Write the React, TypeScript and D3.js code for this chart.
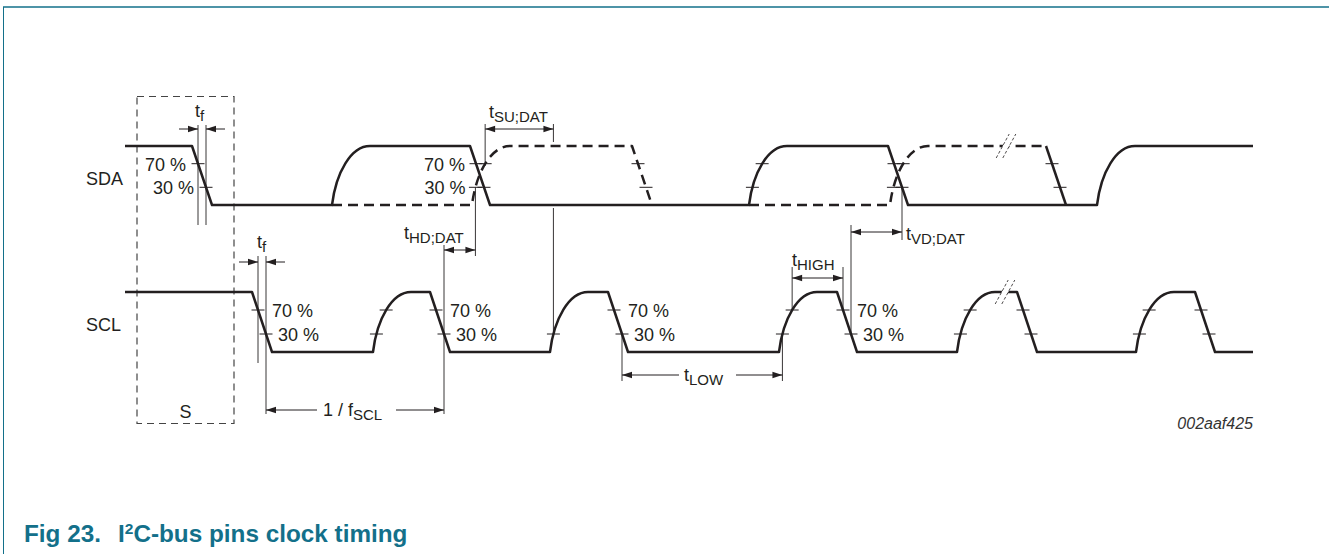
import * as d3 from 'd3'
import React from 'react'

// time axis (arbitrary units, 0 = left end of the traces)
const tEnd = 1128
const tRise = 38
const tFall = 20

// edge times, alternating direction from the starting level
const sdaSolidEdges = [67, 207, 345, 624, 763, 972]     // starts high
const sdaDash1Edges = [347, 507]                        // starts low at 207, ends at 527
const sdaDash2Edges = [765]                             // starts low at 624, ends high at 921
const sdaLastFall = [921]
const sclEdges = [127, 248, 305, 425, 483, 654, 712, 832, 892, 1011, 1070] // starts high

const levels = [0.3, 0.7]
const levelLabels = ['30 %', '70 %']

// edges that carry the 30 % / 70 % marks
const sdaTickFalls = [67, 345, 763, 921]
const sdaTickRises = [347, 624, 765]
const sdaTickDashFalls = [507]
const sclNo70Tick = [425]

const breakAt = 880

const W = 1329, H = 554
const FONT = 'Liberation Sans, Arial, Helvetica, sans-serif'
const INK = '#231f20'
const TEAL = '#13708a'
const FS = 18, FSUB = 15

// rise shape (normalised cubic bezier)
const c1 = [4 / 38, 0.55], c2 = [19 / 38, 1]
const bez = (u: number, a: number, b: number) => 3 * (1 - u) * (1 - u) * u * a + 3 * (1 - u) * u * u * b + u * u * u
const bezX = (l: number) => {
  let lo = 0, hi = 1
  for (let i = 0; i < 40; i++) {
    const m = (lo + hi) / 2
    if (bez(m, c1[1], c2[1]) < l) lo = m; else hi = m
  }
  return bez(lo, c1[0], c2[0])
}

const x = d3.scaleLinear().domain([0, tEnd]).range([125, 1253])
const sdaY = d3.scaleLinear().domain([0, 1]).range([205, 146])
const sclY = d3.scaleLinear().domain([0, 1]).range([352, 292])

const fallX = (t: number, l: number) => x(t + (1 - l) * tFall)
const riseX = (t: number, l: number) => x(t) + (x(t + tRise) - x(t)) * bezX(l)

function trace(y: d3.ScaleLinear<number, number>, t0: number, lvl0: number, edges: number[], t1: number) {
  const p = d3.path()
  let lvl = lvl0
  p.moveTo(x(t0), y(lvl))
  for (const e of edges) {
    p.lineTo(x(e), y(lvl))
    if (lvl === 1) {
      p.lineTo(x(e + tFall), y(0))
      lvl = 0
    } else {
      const x0 = x(e), x3 = x(e + tRise), y0 = y(0), y3 = y(1)
      p.bezierCurveTo(x0 + (x3 - x0) * c1[0], y0 + (y3 - y0) * c1[1], x0 + (x3 - x0) * c2[0], y3, x3, y3)
      lvl = 1
    }
  }
  p.lineTo(x(t1), y(lvl))
  return p.toString()
}

const arrowHead = (tip: number, y: number, dir: number) =>
  `M${tip},${y}L${tip - dir * 10},${y - 3.2}L${tip - dir * 10},${y + 3.2}Z`

const Dim = ({ a, b, y, outside = false, gap }: { a: number, b: number, y: number, outside?: boolean, gap?: [number, number] }) => {
  if (outside) {
    return <g>
      <line x1={a - 19} x2={a} y1={y} y2={y} stroke={INK} strokeWidth={1} />
      <line x1={b + 19} x2={b} y1={y} y2={y} stroke={INK} strokeWidth={1} />
      <path d={arrowHead(a, y, 1)} fill={INK} />
      <path d={arrowHead(b, y, -1)} fill={INK} />
    </g>
  }
  return <g>
    {gap
      ? <>
        <line x1={a} x2={gap[0]} y1={y} y2={y} stroke={INK} strokeWidth={1} />
        <line x1={gap[1]} x2={b} y1={y} y2={y} stroke={INK} strokeWidth={1} />
      </>
      : <line x1={a} x2={b} y1={y} y2={y} stroke={INK} strokeWidth={1} />}
    <path d={arrowHead(a, y, -1)} fill={INK} />
    <path d={arrowHead(b, y, 1)} fill={INK} />
  </g>
}

const VLine = ({ x0, y1, y2 }: { x0: number, y1: number, y2: number }) =>
  <line x1={x0} x2={x0} y1={y1} y2={y2} stroke={INK} strokeWidth={0.9} />

const Sub = ({ x0, y, main, sub }: { x0: number, y: number, main: string, sub: string }) =>
  <text x={x0} y={y} fontSize={FS} fill={INK}>{main}<tspan fontSize={FSUB} dy={4}>{sub}</tspan></text>

const Tick = ({ cx, cy }: { cx: number, cy: number }) =>
  <line x1={cx - 6.5} x2={cx + 6.5} y1={cy} y2={cy} stroke={INK} strokeWidth={1} />

const Break = ({ cx, cy }: { cx: number, cy: number }) => {
  const dx = 6.5, dy = 12, s = 3.3
  return <g>
    <polygon points={`${cx - s + dx},${cy - dy} ${cx + s + dx},${cy - dy} ${cx + s - dx},${cy + dy} ${cx - s - dx},${cy + dy}`} fill='#fff' />
    <line x1={cx - s - dx} y1={cy + dy} x2={cx - s + dx} y2={cy - dy} stroke={INK} strokeWidth={0.8} strokeDasharray='3,2' />
    <line x1={cx + s - dx} y1={cy + dy} x2={cx + s + dx} y2={cy - dy} stroke={INK} strokeWidth={0.8} strokeDasharray='3,2' />
  </g>
}

export default function App() {
  const wave = { fill: 'none', stroke: INK, strokeWidth: 2.5, strokeLinejoin: 'round' as const }
  const dashed = { ...wave, strokeDasharray: '10,6' }

  const sdaTicks: [number, number][] = []
  sdaTickFalls.concat(sdaTickDashFalls).forEach(t => levels.forEach(l => sdaTicks.push([fallX(t, l), sdaY(l)])))
  sdaTickRises.forEach(t => levels.forEach(l => sdaTicks.push([riseX(t, l), sdaY(l)])))
  const sclTicks: [number, number][] = []
  sclEdges.forEach((t, i) => levels.forEach(l => {
    if (l === 0.7 && sclNo70Tick.includes(t)) return
    sclTicks.push([i % 2 === 0 ? fallX(t, l) : riseX(t, l), sclY(l)])
  }))

  // dimension reference points
  const tfSdaA = fallX(sdaSolidEdges[0], 0.7), tfSdaB = fallX(sdaSolidEdges[0], 0.3)
  const tfSclA = fallX(sclEdges[0], 0.7), tfSclB = fallX(sclEdges[0], 0.3)
  const suA = riseX(sdaDash1Edges[0], 0.7), suB = riseX(sclEdges[3], 0.3)
  const hdA = fallX(sclEdges[2], 0.3), hdB = riseX(sdaDash1Edges[0], 0.3)
  const lowA = fallX(sclEdges[4], 0.3), lowB = riseX(sclEdges[5], 0.3)
  const highA = riseX(sclEdges[5], 0.7), highB = fallX(sclEdges[6], 0.7)
  const vdA = fallX(sclEdges[6], 0.3), vdB = fallX(sdaSolidEdges[4], 0.3)

  const sdaPct: [number, number][] = [
    [fallX(sdaSolidEdges[0], 0.7) - 12, fallX(sdaSolidEdges[0], 0.3) - 12],
    [fallX(sdaSolidEdges[2], 0.7) - 11, riseX(sdaDash1Edges[0], 0.3) - 10],
  ]
  const sclPct = [sclEdges[0], sclEdges[2], sclEdges[4], sclEdges[6]]

  return (
    <svg width={W} height={H} style={{ position: 'absolute', left: 0, top: 0 }} fontFamily={FONT}>
      <rect width={W} height={H} fill='#fff' />
      <line x1={3} x2={W} y1={7} y2={7} stroke={TEAL} strokeWidth={1.3} />
      <line x1={3.5} x2={3.5} y1={7} y2={H} stroke={TEAL} strokeWidth={1} />

      {/* start condition box */}
      <rect x={137} y={96.5} width={97} height={327} fill='none' stroke='#444' strokeWidth={1.2} strokeDasharray='7,5' />
      <text x={185.5} y={418} fontSize={FS} fill={INK} textAnchor='middle'>S</text>

      <text x={86} y={185} fontSize={FS} fill={INK}>SDA</text>
      <text x={86} y={331} fontSize={FS} fill={INK}>SCL</text>

      {/* waveforms */}
      <path d={trace(sdaY, 0, 1, sdaSolidEdges, tEnd)} {...wave} />
      <path d={trace(sdaY, sdaSolidEdges[1], 0, sdaDash1Edges, sdaDash1Edges[1] + tFall)} {...dashed} />
      <path d={trace(sdaY, sdaSolidEdges[3], 0, sdaDash2Edges, sdaLastFall[0])} {...dashed} />
      <path d={trace(sdaY, sdaLastFall[0], 1, sdaLastFall, sdaLastFall[0] + tFall)} {...wave} />
      <path d={trace(sclY, 0, 1, sclEdges, tEnd)} {...wave} />

      <Break cx={x(breakAt) + 1} cy={sdaY(1)} />
      <Break cx={x(breakAt)} cy={sclY(1)} />

      {sdaTicks.map(([cx, cy], i) => <Tick key={'a' + i} cx={cx} cy={cy} />)}
      {sclTicks.map(([cx, cy], i) => <Tick key={'c' + i} cx={cx} cy={cy} />)}

      {/* percentage labels */}
      {sdaPct.map(([x7, x3], i) => <g key={'sp' + i}>
        <text x={x7} y={sdaY(0.7) + 7} fontSize={FS} fill={INK} textAnchor='end'>{levelLabels[1]}</text>
        <text x={x3} y={sdaY(0.3) + 7} fontSize={FS} fill={INK} textAnchor='end'>{levelLabels[0]}</text>
      </g>)}
      {sclPct.map((t, i) => <g key={'cp' + i}>
        <text x={fallX(t, 0.7) + 14} y={sclY(0.7) + 7} fontSize={FS} fill={INK}>{levelLabels[1]}</text>
        <text x={fallX(t, 0.3) + 12} y={sclY(0.3) + 7} fontSize={FS} fill={INK}>{levelLabels[0]}</text>
      </g>)}

      {/* tf on SDA */}
      <VLine x0={tfSdaA} y1={125} y2={225} />
      <VLine x0={tfSdaB} y1={125} y2={225} />
      <Dim a={tfSdaA} b={tfSdaB} y={129} outside />
      <Sub x0={tfSdaA - 3} y={117} main='t' sub='f' />

      {/* tf on SCL */}
      <VLine x0={tfSclA} y1={256} y2={363} />
      <VLine x0={tfSclB} y1={256} y2={414} />
      <Dim a={tfSclA} b={tfSclB} y={262} outside />
      <Sub x0={tfSclA - 1} y={248} main='t' sub='f' />

      {/* tSU;DAT */}
      <VLine x0={suA} y1={124} y2={166} />
      <VLine x0={suB} y1={124} y2={142} />
      <VLine x0={suB} y1={208} y2={sclY(0.3)} />
      <Dim a={suA} b={suB} y={129} />
      <Sub x0={489} y={118} main='t' sub='SU;DAT' />

      {/* tHD;DAT */}
      <VLine x0={hdA} y1={245} y2={414} />
      <VLine x0={hdB} y1={sdaY(0.3)} y2={256} />
      <Dim a={hdA} b={hdB} y={250} />
      <Sub x0={404} y={239} main='t' sub='HD;DAT' />

      {/* 1 / fSCL */}
      <Dim a={tfSclB} b={hdA} y={410} gap={[317, 396]} />
      <Sub x0={323} y={416} main='1 / f' sub='SCL' />

      {/* tLOW */}
      <VLine x0={lowA} y1={sclY(0.3)} y2={381} />
      <VLine x0={lowB} y1={sclY(0.3)} y2={381} />
      <Dim a={lowA} b={lowB} y={375} gap={[679, 736]} />
      <Sub x0={684} y={381} main='t' sub='LOW' />

      {/* tHIGH */}
      <VLine x0={highA} y1={267} y2={sclY(0.7)} />
      <VLine x0={highB} y1={267} y2={sclY(0.7)} />
      <Dim a={highA} b={highB} y={278} />
      <Sub x0={792} y={266} main='t' sub='HIGH' />

      {/* tVD;DAT */}
      <VLine x0={vdA} y1={225} y2={sclY(0.3)} />
      <VLine x0={vdB} y1={sdaY(0.3)} y2={240} />
      <Dim a={vdA} b={vdB} y={232} />
      <Sub x0={906} y={240} main='t' sub='VD;DAT' />

      <text x={1253} y={429} fontSize={16} fontStyle='italic' fill='#333' textAnchor='end'>002aaf425</text>

      <text x={24} y={542} fontSize={24.3} fontWeight='bold' fill={TEAL}>Fig 23.</text>
      <text x={118} y={542} fontSize={24.3} fontWeight='bold' fill={TEAL}>
        I<tspan fontSize={15.5} dy={-8}>2</tspan><tspan dy={8}>C-bus pins clock timing</tspan>
      </text>
    </svg>
  )
}
